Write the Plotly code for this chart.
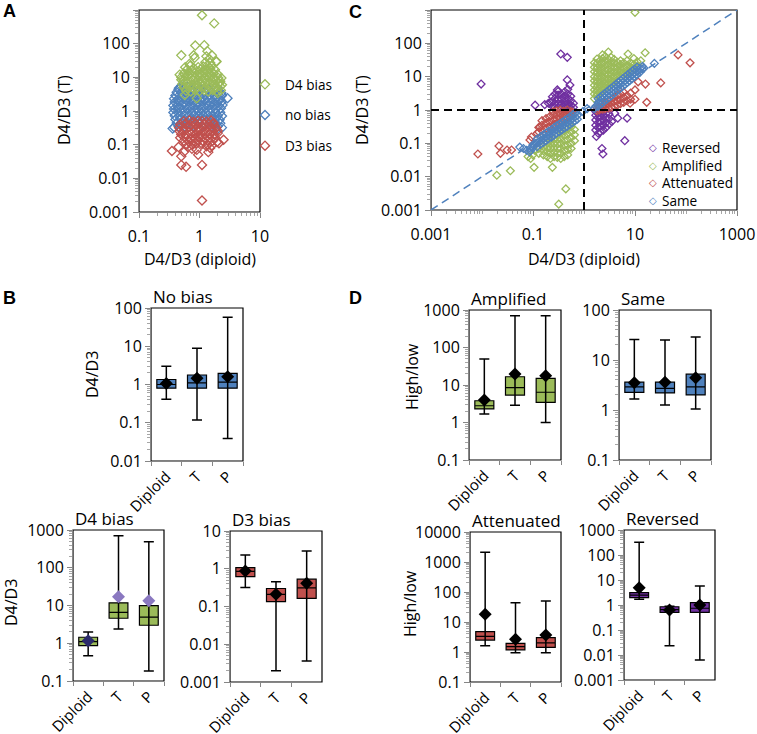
import math
import plotly.graph_objects as go

W, H = 757, 734
FONT = 'Open Sans, Lato, sans-serif'
GREEN = '#9BBB59'
BLUE = '#4F81BD'
RED = '#C0504D'
PURPLE = '#7030A0'
AXIS_GREY = '#868686'

# ---------------- panel A : D4/D3 (diploid) vs D4/D3 (T) ----------------
a_d4_bias = [
    (0.60, 4.0), (0.72, 3.8), (0.85, 4.2), (1.0, 3.9), (1.2, 4.1), (1.4, 3.8), (1.65, 4.2), (1.95, 3.9), (2.25, 4.1),
    (0.55, 5.0), (0.66, 5.2), (0.78, 4.9), (0.92, 5.1), (1.1, 5.3), (1.3, 4.8), (1.55, 5.1), (1.85, 5.0), (2.2, 5.4),
    (0.52, 6.3), (0.62, 6.6), (0.74, 6.1), (0.88, 6.4), (1.05, 6.2), (1.25, 6.7), (1.48, 6.3), (1.75, 6.1), (2.1, 6.5), (2.35, 6.0),
    (0.55, 8.0), (0.66, 7.7), (0.8, 8.3), (0.95, 8.1), (1.12, 7.8), (1.35, 8.4), (1.6, 7.9), (1.9, 8.2), (2.2, 7.6),
    (0.50, 10), (0.6, 10.5), (0.72, 9.7), (0.86, 10.2), (1.02, 10.8), (1.2, 9.9), (1.45, 10.4), (1.72, 10.1), (2.05, 9.6),
    (0.55, 13), (0.68, 12.5), (0.82, 13.5), (1.0, 12.8), (1.2, 13.6), (1.42, 12.7), (1.7, 13.2), (2.0, 12.4),
    (0.62, 17), (0.75, 16), (1.05, 17.5), (1.25, 16.5), (1.5, 18), (1.8, 16.8),
    (0.7, 22), (1.15, 21), (1.35, 23), (1.6, 22), (1.25, 28), (1.5, 27), (1.9, 29),
    (0.9, 15), (1.1, 14.5), (0.95, 20), (1.4, 15), (0.65, 14.5), (1.6, 14), (0.8, 19),
    (1.1, 700), (1.75, 400), (0.85, 88), (1.2, 90), (0.8, 45), (0.83, 38), (0.5, 45), (1.35, 60),
    (1.6, 45), (1.9, 30), (1.45, 35), (0.47, 12), (0.5, 8.5), (0.58, 20), (0.57, 3.0), (0.9, 2.4),
    (2.0, 3.4), (2.3, 9.5), (1.3, 42), (0.68, 25),
]
a_no_bias = [
    (0.5, 5.6), (0.62, 5.3), (0.9, 5.8), (0.46, 4.8),
    (0.45, 4.4), (0.55, 4.6), (0.7, 4.3), (1.0, 4.5), (1.4, 4.4), (2.0, 4.6),
    (0.42, 3.6), (0.5, 3.5), (0.6, 3.7), (0.75, 3.5), (0.95, 3.6), (1.2, 3.7), (1.6, 3.5), (2.1, 3.6), (2.3, 3.4),
    (0.40, 2.9), (0.47, 3.0), (0.56, 2.8), (0.68, 2.9), (0.82, 3.0), (1.0, 2.8), (1.2, 2.9), (1.45, 3.0), (1.75, 2.8), (2.1, 2.9), (2.35, 2.9),
    (0.38, 2.3), (0.44, 2.2), (0.52, 2.4), (0.62, 2.3), (0.74, 2.2), (0.88, 2.4), (1.05, 2.3), (1.25, 2.2), (1.5, 2.4), (1.8, 2.3), (2.2, 2.2),
    (0.39, 1.85), (0.46, 1.9), (0.55, 1.8), (0.65, 1.9), (0.78, 1.8), (0.93, 1.85), (1.1, 1.9), (1.32, 1.8), (1.6, 1.9), (1.95, 1.8), (2.3, 1.85),
    (0.37, 1.45), (0.43, 1.4), (0.51, 1.5), (0.6, 1.45), (0.72, 1.4), (0.86, 1.5), (1.02, 1.45), (1.22, 1.4), (1.45, 1.5), (1.75, 1.45), (2.1, 1.4), (2.4, 1.5),
    (0.38, 1.15), (0.45, 1.2), (0.53, 1.1), (0.63, 1.15), (0.76, 1.2), (0.9, 1.1), (1.08, 1.15), (1.3, 1.2), (1.55, 1.1), (1.85, 1.15), (2.25, 1.2),
    (0.37, 0.9), (0.44, 0.92), (0.52, 0.88), (0.62, 0.9), (0.74, 0.93), (0.88, 0.87), (1.05, 0.9), (1.25, 0.92), (1.5, 0.88), (1.8, 0.9), (2.2, 0.91),
    (0.39, 0.72), (0.46, 0.7), (0.55, 0.74), (0.66, 0.71), (0.8, 0.73), (0.96, 0.7), (1.15, 0.72), (1.38, 0.74), (1.65, 0.7), (2.0, 0.72), (2.35, 0.71),
    (0.4, 0.56), (0.48, 0.58), (0.58, 0.55), (0.7, 0.57), (0.85, 0.56), (1.02, 0.58), (1.22, 0.55), (1.48, 0.57), (1.8, 0.56), (2.15, 0.55),
    (0.42, 0.44), (0.5, 0.45), (0.62, 0.43), (0.78, 0.45), (0.98, 0.44), (1.2, 0.43), (1.5, 0.45), (1.85, 0.44), (2.2, 0.43),
    (0.45, 0.35), (0.58, 0.34), (0.8, 0.36), (1.1, 0.35), (1.6, 0.34), (2.0, 0.35),
    (2.9, 2.4), (0.36, 0.3), (1.9, 0.27), (2.35, 0.32), (0.38, 0.33),
]
a_d3_bias = [
    (0.55, 0.5), (0.68, 0.52), (0.8, 0.48), (0.95, 0.51), (1.1, 0.5), (1.3, 0.49), (1.55, 0.52),
    (0.48, 0.4), (0.58, 0.41), (0.7, 0.39), (0.84, 0.4), (1.0, 0.42), (1.2, 0.39), (1.42, 0.4), (1.7, 0.41),
    (0.46, 0.32), (0.55, 0.31), (0.66, 0.33), (0.8, 0.32), (0.95, 0.31), (1.12, 0.33), (1.35, 0.32), (1.6, 0.31), (1.9, 0.32),
    (0.47, 0.25), (0.56, 0.26), (0.68, 0.24), (0.82, 0.25), (0.98, 0.26), (1.18, 0.25), (1.4, 0.24), (1.68, 0.25), (2.0, 0.26),
    (0.5, 0.2), (0.6, 0.19), (0.72, 0.21), (0.86, 0.2), (1.03, 0.19), (1.22, 0.2), (1.46, 0.21), (1.75, 0.2),
    (0.48, 0.16), (0.58, 0.165), (0.7, 0.155), (0.84, 0.16), (1.0, 0.165), (1.2, 0.155), (1.45, 0.16), (1.8, 0.16),
    (0.55, 0.13), (0.66, 0.125), (0.8, 0.13), (0.95, 0.135), (1.15, 0.125), (1.38, 0.13), (1.65, 0.13),
    (0.6, 0.105), (0.75, 0.1), (0.9, 0.11), (1.1, 0.105), (1.35, 0.1),
    (0.35, 0.065), (0.5, 0.045), (0.5, 0.025), (0.6, 0.022), (0.95, 0.05), (1.1, 0.025), (1.1, 0.0022),
    (1.4, 0.06), (1.5, 0.08), (2.5, 0.14), (2.1, 0.11), (1.95, 0.12), (0.9, 0.07), (0.75, 0.075),
    (1.3, 0.09), (0.55, 0.06), (0.65, 0.085), (0.45, 0.085), (1.7, 0.45), (2.0, 0.22), (1.6, 0.095),
]

# ---------------- panel C : categories of change ----------------
c_reversed = [
    (1.7, 0.25), (1.7, 0.35), (1.7, 0.5), (1.7, 0.7), (1.7, 0.9),
    (1.9, 0.2), (1.9, 0.3), (1.9, 0.42), (1.9, 0.6), (1.9, 0.8),
    (2.1, 0.22), (2.1, 0.32), (2.1, 0.45), (2.1, 0.62), (2.1, 0.85),
    (2.4, 0.25), (2.4, 0.35), (2.4, 0.5), (2.4, 0.7), (2.4, 0.92),
    (2.7, 0.3), (2.7, 0.42), (2.7, 0.6), (2.7, 0.8), (3.1, 0.38), (3.1, 0.55), (3.1, 0.75),
    (2.25, 0.07), (2.35, 0.048), (4.6, 0.57), (7.0, 0.57), (6.3, 0.12), (3.5, 0.45), (4.0, 0.8), (1.75, 0.16),
    (0.24, 1.3), (0.24, 1.8), (0.24, 2.5), (0.27, 1.2), (0.27, 1.6), (0.27, 2.2), (0.27, 3.0),
    (0.31, 1.15), (0.31, 1.5), (0.31, 2.0), (0.31, 2.8), (0.31, 3.6), (0.36, 1.2), (0.36, 1.6), (0.36, 2.2), (0.36, 3.0),
    (0.42, 1.1), (0.42, 1.4), (0.42, 1.9), (0.42, 2.6), (0.42, 3.5), (0.48, 1.2), (0.48, 1.6), (0.48, 2.2), (0.48, 3.0), (0.48, 4.2),
    (0.55, 1.1), (0.55, 1.4), (0.55, 1.9), (0.55, 2.6), (0.62, 1.2), (0.62, 1.6),
    (0.0096, 6.0), (0.35, 48), (0.47, 38), (0.47, 8.0), (0.11, 1.4), (0.2, 1.6), (0.22, 1.7), (0.17, 1.45),
    (0.53, 5.6), (0.3, 4.0),
]
c_amplified = [
    (1.6, 2.2), (1.6, 3.0), (1.6, 4.0), (1.6, 5.5), (1.6, 7.5), (1.6, 10), (1.6, 14), (1.6, 19), (1.6, 26),
    (1.8, 2.8), (1.8, 3.8), (1.8, 5.0), (1.8, 7.0), (1.8, 9.5), (1.8, 13), (1.8, 18), (1.8, 25), (1.8, 34),
    (2.0, 3.2), (2.0, 4.3), (2.0, 6.0), (2.0, 8.0), (2.0, 11), (2.0, 15), (2.0, 21), (2.0, 29),
    (2.3, 3.8), (2.3, 5.0), (2.3, 7.0), (2.3, 9.5), (2.3, 13), (2.3, 18), (2.3, 25), (2.3, 35), (2.3, 45),
    (2.6, 4.5), (2.6, 6.0), (2.6, 8.0), (2.6, 11), (2.6, 15), (2.6, 21), (2.6, 29), (2.6, 40),
    (3.0, 5.0), (3.0, 6.8), (3.0, 9.0), (3.0, 12), (3.0, 17), (3.0, 24), (3.0, 33), (3.0, 55),
    (3.4, 6.0), (3.4, 8.0), (3.4, 11), (3.4, 15), (3.4, 20), (3.4, 28), (3.4, 38),
    (3.9, 7.0), (3.9, 9.5), (3.9, 13), (3.9, 18), (3.9, 25), (3.9, 33),
    (4.5, 8.0), (4.5, 11), (4.5, 15), (4.5, 20), (4.5, 27), (5.2, 9.5), (5.2, 13), (5.2, 17), (5.2, 23), (5.2, 30),
    (6.0, 11), (6.0, 14), (6.0, 19), (6.0, 26), (7.0, 12.5), (7.0, 16), (7.0, 22), (7.0, 30),
    (8.2, 14.5), (8.2, 19), (8.2, 26), (9.5, 17), (9.5, 23), (9.5, 35), (11, 20), (11, 28),
    (10, 850), (15.8, 52), (7.3, 48), (13, 30),
    (0.13, 0.05), (0.13, 0.07), (0.16, 0.045), (0.16, 0.06), (0.16, 0.08),
    (0.19, 0.04), (0.19, 0.055), (0.19, 0.075), (0.19, 0.1),
    (0.22, 0.035), (0.22, 0.05), (0.22, 0.07), (0.22, 0.095), (0.22, 0.12),
    (0.26, 0.04), (0.26, 0.055), (0.26, 0.075), (0.26, 0.1), (0.26, 0.14),
    (0.3, 0.038), (0.3, 0.05), (0.3, 0.07), (0.3, 0.095), (0.3, 0.13), (0.3, 0.17),
    (0.35, 0.035), (0.35, 0.05), (0.35, 0.07), (0.35, 0.1), (0.35, 0.14), (0.35, 0.2),
    (0.41, 0.04), (0.41, 0.06), (0.41, 0.085), (0.41, 0.12), (0.41, 0.17), (0.41, 0.23),
    (0.48, 0.045), (0.48, 0.065), (0.48, 0.09), (0.48, 0.13), (0.48, 0.19), (0.48, 0.27),
    (0.56, 0.07), (0.56, 0.1), (0.56, 0.15), (0.56, 0.22), (0.56, 0.31), (0.65, 0.12), (0.65, 0.18), (0.65, 0.26),
    (0.0195, 0.011), (0.036, 0.015), (0.105, 0.019), (0.24, 0.019), (0.44, 0.0043), (0.32, 0.0015),
    (0.08, 0.04), (0.1, 0.045), (0.11, 0.06), (0.09, 0.035),
]
c_attenuated = [
    (1.8, 0.95), (1.8, 1.15), (2.0, 1.0), (2.0, 1.2), (2.3, 1.05), (2.3, 1.3),
    (2.6, 1.1), (2.6, 1.4), (2.6, 1.7), (3.0, 1.15), (3.0, 1.5), (3.0, 1.9),
    (3.4, 1.2), (3.4, 1.6), (3.4, 2.1), (3.9, 1.3), (3.9, 1.75), (3.9, 2.4),
    (4.5, 1.4), (4.5, 1.9), (4.5, 2.7), (5.2, 1.55), (5.2, 2.1), (5.2, 3.0),
    (6.0, 1.7), (6.0, 2.4), (6.0, 3.4), (7.0, 1.9), (7.0, 2.7), (8.2, 2.1), (8.2, 3.2),
    (11.5, 7.0), (16, 6.0), (10, 4.0), (32, 6.5), (70, 45), (120, 26), (17, 1.7), (10, 2.1), (8.0, 1.6),
    (0.13, 0.22), (0.13, 0.3), (0.15, 0.25), (0.15, 0.35), (0.15, 0.48),
    (0.18, 0.28), (0.18, 0.4), (0.18, 0.55), (0.21, 0.32), (0.21, 0.45), (0.21, 0.62),
    (0.25, 0.36), (0.25, 0.5), (0.25, 0.7), (0.25, 0.9), (0.29, 0.4), (0.29, 0.55), (0.29, 0.75), (0.29, 0.95),
    (0.34, 0.45), (0.34, 0.6), (0.34, 0.8), (0.34, 1.0), (0.4, 0.52), (0.4, 0.7), (0.4, 0.92),
    (0.47, 0.6), (0.47, 0.8), (0.47, 1.0), (0.55, 0.7), (0.55, 0.9), (0.6, 0.85),
    (0.0083, 0.048), (0.0215, 0.083), (0.023, 0.05), (0.031, 0.063), (0.038, 0.063),
    (0.087, 0.126), (0.093, 0.155), (0.137, 0.31), (0.12, 0.2),
]
c_same = [
    (1.9, 1.28), (1.9, 1.67), (1.9, 2.17), (2.1, 1.46), (2.1, 1.9), (2.1, 2.47),
    (2.3, 1.63), (2.3, 2.12), (2.3, 2.76), (2.5, 1.82), (2.5, 2.36), (2.5, 3.07),
    (2.8, 2.09), (2.8, 2.72), (2.8, 3.54), (3.1, 2.37), (3.1, 3.08), (3.1, 4.0),
    (3.4, 2.66), (3.4, 3.46), (3.4, 4.5), (3.8, 3.06), (3.8, 3.98), (3.8, 5.17),
    (4.2, 3.46), (4.2, 4.5), (4.2, 5.85), (4.7, 4.0), (4.7, 5.2), (4.7, 6.76),
    (5.2, 4.54), (5.2, 5.9), (5.2, 7.67), (5.8, 5.19), (5.8, 6.75), (5.8, 8.78),
    (6.4, 5.85), (6.4, 7.6), (6.4, 9.9), (7.1, 6.7), (7.1, 8.7), (7.1, 11.3),
    (7.9, 7.6), (7.9, 9.9), (7.9, 12.9), (8.8, 8.77), (8.8, 11.4), (8.8, 14.8),
    (9.8, 10), (9.8, 13), (9.8, 16.9), (11, 11.5), (11, 15), (11, 19.5),
    (12.5, 13.5), (12.5, 17.6), (14, 17), (14, 20.3), (15, 18), (24, 25),
    (1.7, 1.3), (1.6, 1.1), (1.15, 1.1), (0.95, 0.9),
    (0.12, 0.079), (0.12, 0.103), (0.12, 0.134), (0.14, 0.093), (0.14, 0.121), (0.14, 0.157),
    (0.16, 0.107), (0.16, 0.139), (0.16, 0.18), (0.18, 0.121), (0.18, 0.157), (0.18, 0.204),
    (0.2, 0.135), (0.2, 0.175), (0.2, 0.228), (0.23, 0.154), (0.23, 0.2), (0.23, 0.26),
    (0.26, 0.177), (0.26, 0.23), (0.26, 0.3), (0.29, 0.2), (0.29, 0.26), (0.29, 0.338),
    (0.33, 0.223), (0.33, 0.29), (0.33, 0.377), (0.37, 0.254), (0.37, 0.33), (0.37, 0.43),
    (0.42, 0.292), (0.42, 0.38), (0.42, 0.494), (0.47, 0.323), (0.47, 0.42), (0.47, 0.546),
    (0.53, 0.369), (0.53, 0.48), (0.53, 0.624), (0.6, 0.423), (0.6, 0.55), (0.6, 0.715),
    (0.67, 0.477), (0.67, 0.62), (0.67, 0.806), (0.74, 0.53), (0.74, 0.69),
    (0.055, 0.077), (0.065, 0.07), (0.075, 0.062), (0.085, 0.055), (0.09, 0.06),
    (0.1, 0.09), (0.1, 0.075), (0.11, 0.1), (0.088, 0.07),
]
c_axis_range = [0.001, 1000]
c_threshold = 1

# ---------------- panels B and D : box summaries ----------------
box_cats = ['Diploid', 'T', 'P']
no_bias = dict(lo=[0.41, 0.118, 0.039], q1=[0.8, 0.8, 0.8], med=[1.0, 1.1, 1.15],
               q3=[1.35, 1.77, 1.96], hi=[3.0, 8.8, 57], mean=[1.07, 1.45, 1.6])
d4_bias = dict(lo=[0.47, 2.4, 0.184], q1=[0.86, 4.6, 3.0], med=[1.1, 6.6, 4.9],
               q3=[1.44, 11.8, 9.9], hi=[2.0, 700, 490], mean=[1.17, 17, 13.4])
d3_bias = dict(lo=[0.32, 0.002, 0.0036], q1=[0.62, 0.134, 0.165], med=[0.85, 0.21, 0.31],
               q3=[1.07, 0.30, 0.53], hi=[2.3, 0.45, 2.95], mean=[0.87, 0.21, 0.41])
amplified = dict(lo=[1.69, 2.9, 1.0], q1=[2.3, 5.4, 3.45], med=[2.8, 8.5, 6.4],
                 q3=[3.8, 16.6, 15], hi=[49, 705, 700], mean=[4.0, 19.6, 17.7])
same = dict(lo=[1.66, 1.26, 1.05], q1=[2.26, 2.2, 2.0], med=[2.9, 2.7, 2.9],
            q3=[3.6, 3.6, 5.2], hi=[25.8, 25, 29], mean=[3.5, 3.6, 4.4])
attenuated = dict(lo=[1.62, 0.95, 0.95], q1=[2.5, 1.17, 1.43], med=[3.3, 1.5, 2.0],
                  q3=[4.75, 1.95, 3.0], hi=[2100, 44, 50], mean=[18, 2.65, 3.7])
reversed_ = dict(lo=[1.7, 0.0235, 0.0063], q1=[1.96, 0.51, 0.51], med=[2.5, 0.65, 0.74],
                 q3=[3.1, 0.85, 1.24], hi=[320, 0.9, 5.8], mean=[4.9, 0.63, 1.0])


def dom(x0, x1, y0, y1):
    # pixel box -> paper domains
    return [x0 / W, x1 / W], [1 - y1 / H, 1 - y0 / H]


def tick_font(size=16):
    return dict(family=FONT, size=size, color='black')


def log_axis(domain, lo, hi, anchor, tickvals, standoff=0):
    return dict(type='log', domain=domain, anchor=anchor, automargin=False,
                range=[round(math.log10(lo)), round(math.log10(hi))],
                tickvals=tickvals, ticktext=[f'{v:g}' for v in tickvals],
                showgrid=False, zeroline=False, showline=True, linecolor=AXIS_GREY, linewidth=1,
                ticks='outside', ticklen=5, tickcolor=AXIS_GREY, ticklabelstandoff=standoff,
                minor=dict(ticks='outside', ticklen=3, tickcolor='#A6A6A6', dtick='D1'),
                tickfont=tick_font())


def cat_axis(domain, anchor):
    return dict(type='category', domain=domain, anchor=anchor, automargin=False, range=[-0.5, 2.5],
                categoryorder='array', categoryarray=box_cats,
                tickson='boundaries', ticks='outside', ticklen=4, tickcolor=AXIS_GREY,
                showline=True, linecolor=AXIS_GREY, linewidth=1, showgrid=False, zeroline=False,
                tickangle=-45, tickfont=tick_font(15))


fig = go.Figure()
layout = dict(width=W, height=H, margin=dict(l=0, r=0, t=0, b=0), autosize=False,
              plot_bgcolor='rgba(0,0,0,0)', paper_bgcolor='white',
              font=dict(family=FONT, size=16, color='black'))
shapes = []
annotations = []

decades = [0.001, 0.01, 0.1, 1, 10, 100, 1000]

# ---- panel A
xd, yd = dom(139, 260, 10, 212)
layout['xaxis'] = log_axis(xd, 0.1, 10, 'y', [0.1, 1, 10], standoff=5)
layout['yaxis'] = log_axis(yd, 0.001, 1000, 'x', decades)
order = [(a_no_bias, 'no bias', BLUE, 2), (a_d4_bias, 'D4 bias', GREEN, 1), (a_d3_bias, 'D3 bias', RED, 3)]
for pts, name, col, rank in order:
    fig.add_trace(go.Scatter(
        x=[p[0] for p in pts], y=[p[1] for p in pts], mode='markers', name=name,
        marker=dict(symbol='diamond-open', size=7, color=col, line=dict(width=1.3)),
        xaxis='x', yaxis='y', legend='legend', legendrank=rank, legendgroup=name))

# ---- panel C
xd, yd = dom(431, 737, 10, 210)
layout['xaxis2'] = log_axis(xd, 0.001, 1000, 'y2', [0.001, 0.1, 10, 1000], standoff=5)
layout['yaxis2'] = log_axis(yd, 0.001, 1000, 'x2', decades)
fig.add_trace(go.Scatter(x=c_axis_range, y=c_axis_range, mode='lines', showlegend=False,
                         line=dict(color=BLUE, width=1.5, dash='8px,5px'), xaxis='x2', yaxis='y2'))
c_series = [(c_reversed, 'Reversed', PURPLE), (c_amplified, 'Amplified', GREEN),
            (c_attenuated, 'Attenuated', RED), (c_same, 'Same', BLUE)]
for pts, name, col in c_series:
    fig.add_trace(go.Scatter(
        x=[p[0] for p in pts], y=[p[1] for p in pts], mode='markers', name=name,
        marker=dict(symbol='diamond-open', size=6, color=col, line=dict(width=1.3)),
        xaxis='x2', yaxis='y2', showlegend=False))
fig.add_trace(go.Scatter(x=[c_threshold, c_threshold], y=c_axis_range, mode='lines', showlegend=False,
                         line=dict(color='black', width=2, dash='8px,5px'), xaxis='x2', yaxis='y2'))
fig.add_trace(go.Scatter(x=c_axis_range, y=[c_threshold, c_threshold], mode='lines', showlegend=False,
                         line=dict(color='black', width=2, dash='8px,5px'), xaxis='x2', yaxis='y2'))
# legend of C, drawn as two multi-line text blocks inside the plot (symbols + names)
LEG_C = 13.6
annotations.append(dict(
    text='<br>'.join(f'<span style="color:{col};font-size:10px">◇</span>' for _, _, col in c_series),
    x=653 / W, y=1 - 173.5 / H, xref='paper', yref='paper', showarrow=False,
    xanchor='center', yanchor='middle', font=dict(family='DejaVu Sans', size=LEG_C)))
annotations.append(dict(
    text='<br>'.join(name for _, name, _ in c_series), align='left',
    x=660 / W, y=1 - 173.5 / H, xref='paper', yref='paper', showarrow=False,
    xanchor='left', yanchor='middle', font=dict(family=FONT, size=LEG_C)))

# ---- box panels
box_panels = [
    (3, no_bias, 'No bias', BLUE, (151, 243, 308, 461), (0.01, 100), ['black'] * 3),
    (4, d4_bias, 'D4 bias', GREEN, (73, 164, 530, 681), (0.1, 1000), ['#2B2B6B', '#8A78C0', '#8A78C0']),
    (5, d3_bias, 'D3 bias', RED, (230, 322, 531, 682), (0.001, 10), ['black'] * 3),
    (6, amplified, 'Amplified', GREEN, (469, 561, 310, 460), (0.1, 1000), ['black'] * 3),
    (7, same, 'Same', BLUE, (619, 711, 310, 460), (0.1, 100), ['black'] * 3),
    (8, attenuated, 'Attenuated', RED, (470, 561, 532, 682), (0.1, 10000), ['black'] * 3),
    (9, reversed_, 'Reversed', PURPLE, (624, 715, 530, 680), (0.001, 1000), ['black'] * 3),
]
for n, st, title, col, box, (lo, hi), mcols in box_panels:
    xd, yd = dom(*box)
    xa, ya = f'x{n}', f'y{n}'
    layout[f'xaxis{n}'] = cat_axis(xd, ya)
    ticks = [v for v in [0.001, 0.01, 0.1, 1, 10, 100, 1000, 10000] if lo <= v <= hi]
    layout[f'yaxis{n}'] = log_axis(yd, lo, hi, xa, ticks)
    fig.add_trace(go.Scatter(
        x=box_cats, y=st['med'], mode='markers', marker=dict(opacity=0), showlegend=False,
        error_y=dict(type='data', symmetric=False,
                     array=[h - m for h, m in zip(st['hi'], st['med'])],
                     arrayminus=[m - l for m, l in zip(st['med'], st['lo'])],
                     color='black', thickness=1.5, width=5),
        xaxis=xa, yaxis=ya))
    fig.add_trace(go.Box(
        x=box_cats, q1=st['q1'], median=st['med'], q3=st['q3'],
        lowerfence=st['q1'], upperfence=st['q3'], width=0.62,
        fillcolor=col, line=dict(color='black', width=1.2), showlegend=False,
        xaxis=xa, yaxis=ya))
    fig.add_trace(go.Scatter(
        x=box_cats, y=st['mean'], mode='markers', showlegend=False,
        marker=dict(symbol='diamond', size=10, color=mcols, line=dict(width=0)),
        xaxis=xa, yaxis=ya))
    annotations.append(dict(text=title, xref=f'{xa} domain', yref=f'{ya} domain', x=0, y=1,
                            xanchor='left', yanchor='bottom', showarrow=False, yshift=-2,
                            font=dict(family=FONT, size=17)))

# plot frames: top/right edges black
for n in ['', '2', '3', '4', '5', '6', '7', '8', '9']:
    shapes.append(dict(type='rect', xref=f'x{n} domain', yref=f'y{n} domain', x0=0, x1=1, y0=0, y1=1,
                       line=dict(color='black', width=1.2), layer='below'))


# axis titles
def label(text, x, y, angle=0, size=16):
    annotations.append(dict(text=text, x=x / W, y=1 - y / H, xref='paper', yref='paper',
                            showarrow=False, textangle=angle, xanchor='center', yanchor='middle',
                            font=dict(family=FONT, size=size)))


label('D4/D3 (diploid)', 200, 259)
label('D4/D3 (T)', 64, 110, -90)
label('D4/D3 (diploid)', 584, 259)
label('D4/D3 (T)', 362, 110, -90)
label('D4/D3', 92, 375, -90)
label('D4/D3', 11, 603, -90)
label('High/low', 412, 377, -90)
label('High/low', 410, 603, -90)

for letter, x, y in [('A', 9, 11), ('C', 355, 12), ('B', 9, 298), ('D', 355, 298)]:
    annotations.append(dict(text=f'<b>{letter}</b>', x=x / W, y=1 - y / H, xref='paper', yref='paper',
                            showarrow=False, xanchor='center', yanchor='middle',
                            font=dict(family='Liberation Sans, Arial, sans-serif', size=18)))

layout['legend'] = dict(x=245 / W, y=1 - 69 / H, xanchor='left', yanchor='top', bgcolor='rgba(0,0,0,0)',
                        font=dict(family=FONT, size=13.6), tracegroupgap=10, itemwidth=30)
layout['shapes'] = shapes
layout['annotations'] = annotations
layout['showlegend'] = True
fig.update_layout(**layout)

# the page body has a default 8px margin; drop it so the figure fills the window
fig.write_html('out.html', config={'displayModeBar': False},
               post_script="document.body.style.margin='0px';")
